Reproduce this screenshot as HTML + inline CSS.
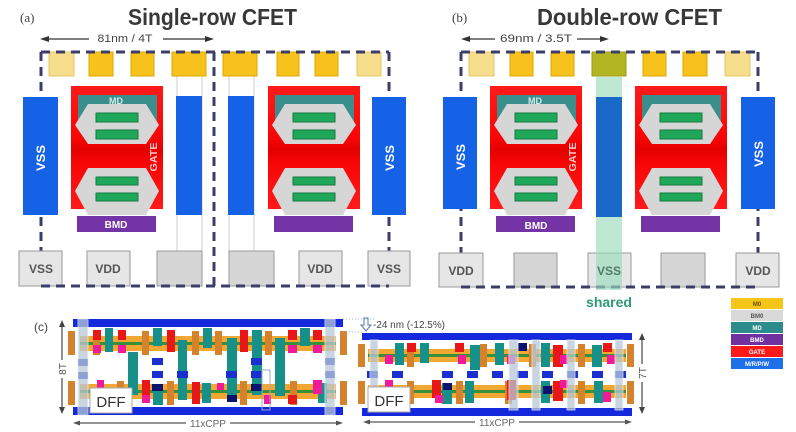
<!DOCTYPE html>
<html><head><meta charset="utf-8">
<style>
html,body{margin:0;padding:0;background:#fff;}
svg{display:block;}
text{font-family:"Liberation Sans",Arial,sans-serif;}
</style></head>
<body>
<svg width="796" height="432" viewBox="0 0 796 432" xmlns="http://www.w3.org/2000/svg">
<defs>
<linearGradient id="rg" x1="0" y1="0" x2="0" y2="1">
<stop offset="0" stop-color="#ff1a1a"/>
<stop offset="0.42" stop-color="#f80606"/>
<stop offset="0.52" stop-color="#e40000"/>
<stop offset="0.62" stop-color="#f80606"/>
<stop offset="1" stop-color="#ff1a1a"/>
</linearGradient>
<g id="cell">
<rect x="0" y="86" width="92" height="123" fill="url(#rg)"/>
<rect x="7" y="95" width="79" height="32" fill="#3a8e8c"/>
<polygon points="4,125 17,104 75,104 88,125 75,144 17,144" fill="#d6d6d6"/>
<rect x="25" y="113" width="42" height="9" fill="#1fa85a" stroke="#147a40" stroke-width="1"/>
<rect x="25" y="130" width="42" height="9" fill="#1fa85a" stroke="#147a40" stroke-width="1"/>
<polygon points="4,191 17,168 75,168 88,191 75,215 17,215" fill="#d6d6d6"/>
<rect x="25" y="177" width="42" height="8" fill="#1fa85a" stroke="#147a40" stroke-width="1"/>
<rect x="25" y="193" width="42" height="8" fill="#1fa85a" stroke="#147a40" stroke-width="1"/>
<rect x="6" y="216" width="79" height="16" fill="#7434a6"/>
</g>
</defs>

<!-- ===== Panel (a) ===== -->
<text x="20" y="22" font-size="13" fill="#444" style="font-family:'Liberation Serif',serif">(a)</text>
<text x="128" y="25" font-size="23" font-weight="bold" fill="#383838" textLength="169" lengthAdjust="spacingAndGlyphs">Single-row CFET</text>
<line x1="46" y1="39" x2="89" y2="39" stroke="#333" stroke-width="1.3"/>
<line x1="163" y1="39" x2="208" y2="39" stroke="#333" stroke-width="1.3"/>
<polygon points="40,39 49,36 49,42" fill="#333"/>
<polygon points="214,39 205,36 205,42" fill="#333"/>
<text x="125" y="42" font-size="11" fill="#444" text-anchor="middle" textLength="55" lengthAdjust="spacingAndGlyphs">81nm / 4T</text>

<g stroke="#3d3d6b" stroke-width="3" stroke-dasharray="9,6" fill="none">
<path d="M41,52 V286 M389,52 V286 M214,52 V286"/>
</g>
<g stroke="#cfcfcf" stroke-width="1">
<path d="M177,76 V252 M202,76 V252 M229,76 V252 M254,76 V252"/>
</g>
<g stroke-width="1">
<rect x="49" y="52" width="25" height="24" fill="#f6de8c" stroke="#e6c766"/>
<rect x="89" y="52" width="24" height="24" fill="#f7c21c" stroke="#dfa800"/>
<rect x="131" y="52" width="23" height="24" fill="#f7c21c" stroke="#dfa800"/>
<rect x="172" y="52" width="34" height="24" fill="#f7c21c" stroke="#dfa800"/>
<rect x="223" y="52" width="34" height="24" fill="#f7c21c" stroke="#dfa800"/>
<rect x="277" y="52" width="22" height="24" fill="#f7c21c" stroke="#dfa800"/>
<rect x="315" y="52" width="23" height="24" fill="#f7c21c" stroke="#dfa800"/>
<rect x="357" y="52" width="24" height="24" fill="#f6de8c" stroke="#e6c766"/>
</g>
<rect x="23" y="97" width="35" height="118" fill="#1662e6"/>
<rect x="176" y="96" width="26" height="119" fill="#1662e6"/>
<rect x="228" y="96" width="26" height="119" fill="#1662e6"/>
<rect x="372" y="97" width="34" height="118" fill="#1662e6"/>
<text transform="translate(45,158) rotate(-90)" font-size="12" font-weight="bold" fill="#fff" text-anchor="middle" textLength="26" lengthAdjust="spacingAndGlyphs">VSS</text>
<text transform="translate(394,158) rotate(-90)" font-size="12" font-weight="bold" fill="#fff" text-anchor="middle" textLength="26" lengthAdjust="spacingAndGlyphs">VSS</text>
<use href="#cell" transform="translate(71,0)"/>
<use href="#cell" transform="translate(268,0)"/>
<text x="116" y="104" font-size="9" font-weight="bold" fill="#d4ecec" text-anchor="middle">MD</text>
<text transform="translate(157,157) rotate(-90)" font-size="10" font-weight="bold" fill="#ffc8c8" text-anchor="middle" textLength="29" lengthAdjust="spacingAndGlyphs">GATE</text>
<text x="116" y="228" font-size="10" font-weight="bold" fill="#fff" text-anchor="middle">BMD</text>
<g stroke="#9a9a9a" stroke-width="1">
<rect x="19" y="251" width="43" height="35" fill="#e6e6e6"/>
<rect x="87" y="251" width="43" height="35" fill="#e6e6e6"/>
<rect x="157" y="251" width="45" height="35" fill="#d6d6d6"/>
<rect x="229" y="251" width="45" height="35" fill="#d6d6d6"/>
<rect x="299" y="251" width="43" height="35" fill="#e6e6e6"/>
<rect x="368" y="251" width="42" height="35" fill="#e6e6e6"/>
</g>
<g font-size="12" font-weight="bold" fill="#555" text-anchor="middle">
<text x="41" y="273">VSS</text>
<text x="108" y="273">VDD</text>
<text x="320" y="273">VDD</text>
<text x="389" y="273">VSS</text>
</g>
<g stroke="#3d3d6b" stroke-width="3" stroke-dasharray="9,6" fill="none">
<path d="M41,52 H389 M41,286 H389"/>
</g>

<!-- ===== Panel (b) ===== -->
<text x="452" y="22" font-size="13" fill="#444" style="font-family:'Liberation Serif',serif">(b)</text>
<text x="537" y="25" font-size="23" font-weight="bold" fill="#383838" textLength="185" lengthAdjust="spacingAndGlyphs">Double-row CFET</text>
<line x1="467" y1="39" x2="495" y2="39" stroke="#333" stroke-width="1.3"/>
<line x1="577" y1="39" x2="603" y2="39" stroke="#333" stroke-width="1.3"/>
<polygon points="461,39 470,36 470,42" fill="#333"/>
<polygon points="609,39 600,36 600,42" fill="#333"/>
<text x="536" y="42" font-size="11" fill="#444" text-anchor="middle" textLength="72" lengthAdjust="spacingAndGlyphs">69nm / 3.5T</text>

<g stroke="#3d3d6b" stroke-width="3" stroke-dasharray="9,6" fill="none">
<path d="M461,52 V287 M758,52 V287"/>
</g>
<g stroke-width="1">
<rect x="469" y="52" width="25" height="24" fill="#f6de8c" stroke="#e6c766"/>
<rect x="510" y="52" width="23" height="24" fill="#f7c21c" stroke="#dfa800"/>
<rect x="551" y="52" width="23" height="24" fill="#f7c21c" stroke="#dfa800"/>
<rect x="592" y="52" width="34" height="24" fill="#b3b622" stroke="#9a9c10"/>
<rect x="643" y="52" width="23" height="24" fill="#f7c21c" stroke="#dfa800"/>
<rect x="683" y="52" width="24" height="24" fill="#f7c21c" stroke="#dfa800"/>
<rect x="725" y="52" width="25" height="24" fill="#f6de8c" stroke="#e6c766"/>
</g>
<rect x="443" y="97" width="34" height="112" fill="#1662e6"/>
<rect x="741" y="97" width="34" height="112" fill="#1662e6"/>
<text transform="translate(465,157) rotate(-90)" font-size="12" font-weight="bold" fill="#fff" text-anchor="middle" textLength="26" lengthAdjust="spacingAndGlyphs">VSS</text>
<text transform="translate(763,154) rotate(-90)" font-size="12" font-weight="bold" fill="#fff" text-anchor="middle" textLength="26" lengthAdjust="spacingAndGlyphs">VSS</text>
<use href="#cell" transform="translate(490,0)"/>
<use href="#cell" transform="translate(635,0)"/>
<text x="535" y="104" font-size="9" font-weight="bold" fill="#d4ecec" text-anchor="middle">MD</text>
<text transform="translate(576,157) rotate(-90)" font-size="10" font-weight="bold" fill="#ffc8c8" text-anchor="middle" textLength="29" lengthAdjust="spacingAndGlyphs">GATE</text>
<text x="536" y="229" font-size="10" font-weight="bold" fill="#fff" text-anchor="middle">BMD</text>
<g stroke="#9a9a9a" stroke-width="1">
<rect x="439" y="253" width="44" height="34" fill="#e6e6e6"/>
<rect x="514" y="253" width="43" height="34" fill="#d6d6d6"/>
<rect x="588" y="253" width="43" height="34" fill="#e6e6e6"/>
<rect x="661" y="253" width="44" height="34" fill="#d6d6d6"/>
<rect x="736" y="253" width="43" height="34" fill="#e6e6e6"/>
</g>
<g font-size="12" font-weight="bold" fill="#555" text-anchor="middle">
<text x="461" y="275">VDD</text>
<text x="758" y="275">VDD</text>
</g>
<g stroke="#3d3d6b" stroke-width="3" stroke-dasharray="9,6" fill="none">
<path d="M461,52 H758 M461,287 H758"/>
</g>
<rect x="596" y="77" width="26" height="213" fill="#98dcbd" opacity="0.65"/>
<rect x="596" y="97" width="26" height="120" fill="#1a68c8"/>
<text x="609" y="275" font-size="12" font-weight="bold" fill="#557a6a" text-anchor="middle">VSS</text>
<text x="609" y="307" font-size="14" font-weight="bold" fill="#2e9b72" text-anchor="middle">shared</text>

<!-- legend -->
<g font-size="6" font-weight="bold" text-anchor="middle">
<rect x="731" y="298" width="52" height="11" fill="#f5c518"/>
<text x="757" y="306" fill="#6a4a00">M0</text>
<rect x="731" y="310" width="52" height="11" fill="#d9d9d9"/>
<text x="757" y="318" fill="#555">BM0</text>
<rect x="731" y="322" width="52" height="11" fill="#2e8b8b"/>
<text x="757" y="330" fill="#fff">MD</text>
<rect x="731" y="334" width="52" height="11" fill="#7030a0"/>
<text x="757" y="342" fill="#fff">BMD</text>
<rect x="731" y="346" width="52" height="11" fill="#ff1a1a"/>
<text x="757" y="354" fill="#fff">GATE</text>
<rect x="731" y="358" width="52" height="11" fill="#1f6fe8"/>
<text x="757" y="366" fill="#fff">M/R/P/W</text>
</g>

<!-- ===== Panel (c) ===== -->
<text x="34" y="331" font-size="12" fill="#444">(c)</text>

<rect x="73" y="319" width="270" height="8" fill="#1428dc"/>
<rect x="73" y="407" width="270" height="8" fill="#1428dc"/>
<rect x="80" y="336" width="256" height="6" fill="#f3a733"/>
<rect x="80" y="342" width="256" height="3" fill="#3a8f3a"/>
<rect x="80" y="345" width="256" height="6" fill="#f3a733"/>
<rect x="80" y="384" width="256" height="6" fill="#f3a733"/>
<rect x="80" y="390" width="256" height="3" fill="#3a8f3a"/>
<rect x="80" y="393" width="256" height="6" fill="#f3a733"/>
<g fill="#d4822c">
<rect x="68" y="331" width="7" height="24"/><rect x="93" y="331" width="7" height="24"/><rect x="142" y="331" width="7" height="24"/><rect x="192" y="331" width="7" height="24"/><rect x="215" y="331" width="7" height="24"/><rect x="265" y="331" width="7" height="24"/><rect x="340" y="331" width="7" height="24"/>
<rect x="68" y="381" width="7" height="24"/><rect x="117" y="381" width="7" height="24"/><rect x="167" y="381" width="7" height="24"/><rect x="240" y="381" width="7" height="24"/><rect x="290" y="381" width="7" height="24"/><rect x="340" y="381" width="7" height="24"/>
</g>
<g fill="#17908a">
<rect x="105" y="328" width="8" height="24"/><rect x="153" y="328" width="9" height="18"/><rect x="203" y="328" width="9" height="20"/><rect x="300" y="328" width="10" height="18"/>
<rect x="128" y="352" width="10" height="43"/><rect x="178" y="340" width="9" height="60"/><rect x="227" y="338" width="10" height="58"/><rect x="252" y="330" width="10" height="65"/><rect x="275" y="338" width="10" height="58"/>
<rect x="153" y="388" width="10" height="17"/><rect x="202" y="383" width="9" height="20"/><rect x="318" y="383" width="9" height="20"/>
</g>
<g fill="#e81818">
<rect x="93" y="330" width="8" height="10"/><rect x="118" y="330" width="8" height="10"/><rect x="167" y="330" width="8" height="22"/><rect x="240" y="330" width="8" height="22"/><rect x="288" y="330" width="9" height="10"/><rect x="313" y="330" width="9" height="10"/>
<rect x="142" y="380" width="8" height="20"/><rect x="192" y="382" width="8" height="22"/><rect x="288" y="395" width="9" height="9"/>
</g>
<g fill="#f01a9a">
<rect x="93" y="345" width="8" height="8"/><rect x="118" y="345" width="8" height="8"/><rect x="288" y="345" width="9" height="8"/><rect x="313" y="345" width="9" height="8"/>
<rect x="97" y="380" width="7" height="8"/><rect x="142" y="395" width="8" height="8"/><rect x="217" y="383" width="7" height="7"/><rect x="313" y="380" width="9" height="14"/><rect x="264" y="395" width="7" height="9"/>
</g>
<g fill="#1a2fd0">
<rect x="152" y="358" width="11" height="7"/><rect x="152" y="371" width="11" height="7"/><rect x="177" y="371" width="11" height="7"/><rect x="226" y="371" width="11" height="7"/><rect x="251" y="358" width="11" height="7"/><rect x="251" y="371" width="11" height="7"/>
<rect x="78" y="359" width="10" height="7"/><rect x="78" y="372" width="10" height="7"/><rect x="325" y="358" width="10" height="7"/><rect x="325" y="371" width="10" height="7"/>
</g>
<g fill="#0a1470"><rect x="152" y="384" width="11" height="7"/><rect x="227" y="395" width="10" height="7"/><rect x="251" y="384" width="11" height="7"/></g>
<rect x="78" y="319" width="10" height="96" fill="#b8c8d8" opacity="0.75" stroke="#e8eef4" stroke-width="1"/>
<rect x="325" y="319" width="10" height="96" fill="#b8c8d8" opacity="0.75" stroke="#e8eef4" stroke-width="1"/>
<rect x="262" y="370" width="8" height="40" fill="none" stroke="#9aa8c0" stroke-width="1"/>
<rect x="90" y="388" width="42" height="25" fill="#fff" stroke="#aaa" stroke-width="1"/>
<text x="111" y="407" font-size="15" fill="#333" text-anchor="middle">DFF</text>
<line x1="62" y1="325" x2="62" y2="410" stroke="#444" stroke-width="1.2"/>
<polygon points="62,320 59,327 65,327" fill="#444"/>
<polygon points="62,414 59,407 65,407" fill="#444"/>
<rect x="56" y="360" width="12" height="18" fill="#fff"/>
<text transform="translate(66,369) rotate(-90)" font-size="10" fill="#555" text-anchor="middle">8T</text>
<line x1="78" y1="423" x2="338" y2="423" stroke="#555" stroke-width="1.2"/>
<polygon points="73,423 80,420.5 80,425.5" fill="#555"/>
<polygon points="343,423 336,420.5 336,425.5" fill="#555"/>
<rect x="186" y="417" width="44" height="12" fill="#fff"/>
<text x="208" y="427" font-size="10" fill="#666" text-anchor="middle">11xCPP</text>

<line x1="343" y1="319" x2="375" y2="319" stroke="#8fb0d8" stroke-width="1" stroke-dasharray="1,2"/>
<line x1="343" y1="332" x2="362" y2="332" stroke="#8fb0d8" stroke-width="1" stroke-dasharray="1,2"/>
<polygon points="364,318 368,318 368,325 371,325 366,331 361,325 364,325" fill="none" stroke="#5577aa" stroke-width="1"/>
<text x="373" y="328" font-size="10" fill="#444" textLength="72" lengthAdjust="spacingAndGlyphs">-24 nm (-12.5%)</text>

<rect x="362" y="333" width="270" height="7" fill="#1428dc"/>
<rect x="362" y="408" width="270" height="8" fill="#1428dc"/>
<rect x="368" y="349" width="258" height="5" fill="#f3a733"/>
<rect x="368" y="354" width="258" height="3" fill="#3a8f3a"/>
<rect x="368" y="357" width="258" height="5" fill="#f3a733"/>
<rect x="368" y="385" width="258" height="5" fill="#f3a733"/>
<rect x="368" y="390" width="258" height="3" fill="#3a8f3a"/>
<rect x="368" y="393" width="258" height="5" fill="#f3a733"/>
<g fill="#d4822c">
<rect x="358" y="344" width="7" height="23"/><rect x="407" y="344" width="7" height="23"/><rect x="480" y="344" width="7" height="23"/><rect x="529" y="344" width="7" height="23"/><rect x="578" y="344" width="7" height="23"/><rect x="627" y="344" width="7" height="23"/>
<rect x="358" y="381" width="7" height="23"/><rect x="407" y="381" width="7" height="23"/><rect x="456" y="381" width="7" height="23"/><rect x="505" y="381" width="7" height="23"/><rect x="578" y="381" width="7" height="23"/><rect x="627" y="381" width="7" height="23"/>
</g>
<g fill="#17908a">
<rect x="395" y="343" width="9" height="22"/><rect x="420" y="343" width="9" height="20"/><rect x="470" y="345" width="10" height="25"/><rect x="495" y="343" width="9" height="22"/><rect x="541" y="343" width="9" height="24"/><rect x="592" y="345" width="10" height="22"/>
<rect x="442" y="383" width="10" height="21"/><rect x="465" y="381" width="9" height="22"/><rect x="541" y="381" width="9" height="22"/><rect x="594" y="381" width="9" height="22"/>
</g>
<g fill="#e81818">
<rect x="407" y="343" width="9" height="9"/><rect x="455" y="343" width="9" height="9"/><rect x="553" y="345" width="10" height="22"/><rect x="603" y="343" width="9" height="9"/>
<rect x="432" y="380" width="9" height="18"/><rect x="507" y="380" width="9" height="20"/><rect x="553" y="381" width="10" height="20"/>
</g>
<g fill="#f01a9a">
<rect x="385" y="355" width="8" height="9"/><rect x="458" y="355" width="8" height="9"/><rect x="507" y="355" width="8" height="9"/><rect x="560" y="355" width="8" height="9"/><rect x="607" y="355" width="8" height="9"/>
<rect x="385" y="380" width="8" height="8"/><rect x="435" y="395" width="8" height="8"/><rect x="560" y="380" width="8" height="8"/><rect x="603" y="392" width="8" height="10"/>
</g>
<g fill="#1a2fd0">
<rect x="367" y="371" width="11" height="7"/><rect x="392" y="371" width="11" height="7"/><rect x="442" y="371" width="11" height="7"/><rect x="467" y="371" width="11" height="7"/><rect x="492" y="371" width="11" height="7"/><rect x="517" y="371" width="11" height="7"/><rect x="542" y="371" width="11" height="7"/><rect x="567" y="371" width="11" height="7"/><rect x="592" y="371" width="11" height="7"/><rect x="615" y="371" width="11" height="7"/>
</g>
<g fill="#0a1470"><rect x="443" y="383" width="9" height="7"/><rect x="543" y="386" width="9" height="8"/><rect x="518" y="343" width="9" height="8"/></g>
<g fill="#b8c8d8" opacity="0.75" stroke="#e8eef4" stroke-width="1">
<rect x="370" y="340" width="8" height="70"/><rect x="509" y="340" width="9" height="70"/><rect x="532" y="340" width="8" height="70"/><rect x="567" y="340" width="8" height="70"/><rect x="615" y="340" width="8" height="70"/>
</g>
<rect x="368" y="387" width="42" height="25" fill="#fff" stroke="#aaa" stroke-width="1"/>
<text x="389" y="406" font-size="15" fill="#333" text-anchor="middle">DFF</text>
<line x1="642" y1="338" x2="642" y2="409" stroke="#444" stroke-width="1.2"/>
<polygon points="642,333 639,340 645,340" fill="#444"/>
<polygon points="642,414 639,407 645,407" fill="#444"/>
<rect x="636" y="364" width="12" height="18" fill="#fff"/>
<text transform="translate(646,373) rotate(-90)" font-size="10" fill="#555" text-anchor="middle">7T</text>
<line x1="368" y1="422" x2="627" y2="422" stroke="#555" stroke-width="1.2"/>
<polygon points="363,422 370,419.5 370,424.5" fill="#555"/>
<polygon points="632,422 625,419.5 625,424.5" fill="#555"/>
<rect x="475" y="416" width="44" height="12" fill="#fff"/>
<text x="497" y="426" font-size="10" fill="#666" text-anchor="middle">11xCPP</text>
</svg>
</body></html>
